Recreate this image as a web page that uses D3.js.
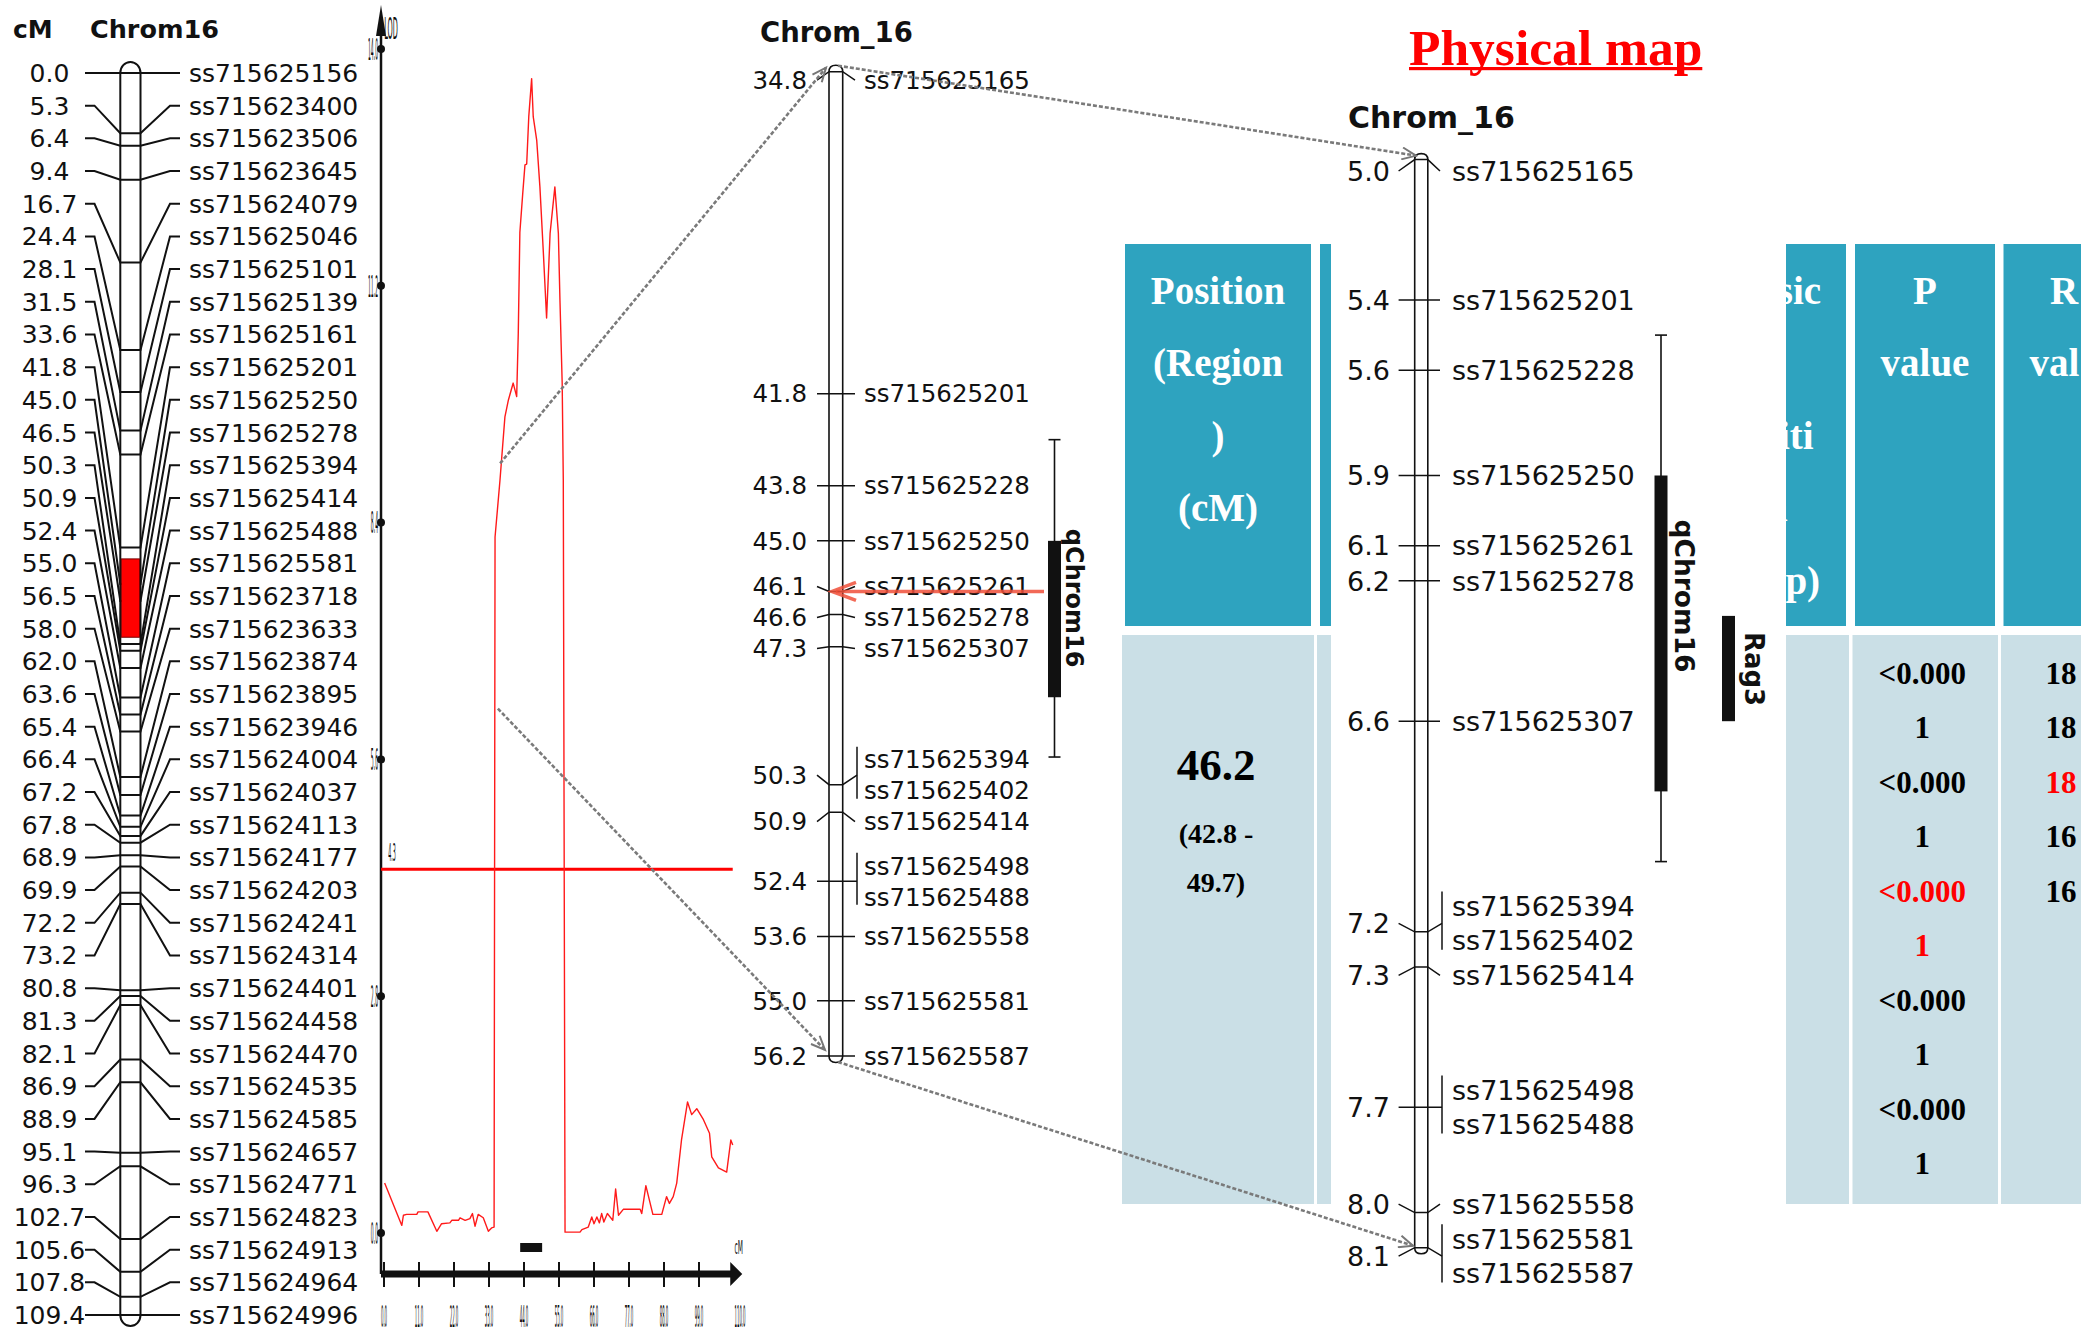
<!DOCTYPE html>
<html><head><meta charset="utf-8">
<script src="https://cdn.jsdelivr.net/npm/d3@7"></script>
<style>html,body{margin:0;padding:0;background:#fff}svg{display:block}</style>
</head><body>
<svg id="c" width="2081" height="1334"></svg>
<script>
// ================= DATA =================
// Genetic linkage map (left)
const leftCM = [0.0,5.3,6.4,9.4,16.7,24.4,28.1,31.5,33.6,41.8,45.0,46.5,50.3,50.9,52.4,55.0,56.5,58.0,62.0,63.6,65.4,66.4,67.2,67.8,68.9,69.9,72.2,73.2,80.8,81.3,82.1,86.9,88.9,95.1,96.3,102.7,105.6,107.8,109.4];
const leftMarkers = ["ss715625156","ss715623400","ss715623506","ss715623645","ss715624079","ss715625046","ss715625101","ss715625139","ss715625161","ss715625201","ss715625250","ss715625278","ss715625394","ss715625414","ss715625488","ss715625581","ss715623718","ss715623633","ss715623874","ss715623895","ss715623946","ss715624004","ss715624037","ss715624113","ss715624177","ss715624203","ss715624241","ss715624314","ss715624401","ss715624458","ss715624470","ss715624535","ss715624585","ss715624657","ss715624771","ss715624823","ss715624913","ss715624964","ss715624996"];
const qtlInterval = [42.8, 49.7];

// LOD profile
const lodCM  = [0.2,5.6,6.1,7.1,10.3,10.7,13.8,16.6,18.1,20.7,21.3,23.4,23.9,25.5,27.0,27.8,28.6,29.6,31.2,32.8,33.8,34.6,34.9,36.45,38.0,39.1,40.6,41.7,42.2,42.7,43.6,44.3,44.85,45.5,46.4,46.9,48.0,49.0,50.1,51.1,52.2,53.7,54.8,55.3,56.0,56.35,56.9,61.6,62.2,64.2,65.3,66.0,66.9,67.7,68.4,69.1,70.2,71.9,72.8,73.7,75.2,80.5,81.0,82.3,84.5,87.3,88.8,89.7,90.9,92.0,93.5,95.4,96.7,98.3,100.4,102.3,103.0,105.1,107.7,109.0,109.6];
const lodVal = [0.59,0.09,0.21,0.22,0.22,0.25,0.25,0.02,0.11,0.12,0.15,0.15,0.18,0.15,0.17,0.23,0.08,0.22,0.18,0.02,0.06,0.07,8.23,8.90,9.65,9.85,10.05,9.89,10.64,11.83,12.29,12.63,12.64,13.2,13.65,13.2,12.92,12.37,11.58,10.82,11.82,12.37,11.82,11.03,10.05,8.90,0.01,0.01,0.04,0.07,0.19,0.11,0.19,0.12,0.23,0.13,0.23,0.15,0.52,0.21,0.28,0.28,0.23,0.56,0.22,0.22,0.43,0.35,0.43,0.59,1.10,1.55,1.40,1.47,1.34,1.18,0.90,0.77,0.72,1.10,1.04];
const lodThreshold = 4.3;
const lodTicks = [0.0,2.8,5.6,8.4,11.2,14.0];
const cmTicks = [0,11,22,33,44,55,66,77,88,99,110];

// Zoomed genetic map (middle)
const midCM = [34.8,41.8,43.8,45.0,46.1,46.6,47.3,50.3,50.9,52.4,53.6,55.0,56.2];
const midNames = [["ss715625165"],["ss715625201"],["ss715625228"],["ss715625250"],["ss715625261"],["ss715625278"],["ss715625307"],["ss715625394","ss715625402"],["ss715625414"],["ss715625498","ss715625488"],["ss715625558"],["ss715625581"],["ss715625587"]];
const midQtlOuter = [42.8, 49.7];
const midQtlInner = [45.0, 48.4];
const peakMarkerCM = 46.1;

// Physical map (right)
const physMb = [5.0,5.4,5.6,5.9,6.1,6.2,6.6,7.2,7.3,7.7,8.0,8.1];
const physNames = [["ss715625165"],["ss715625201"],["ss715625228"],["ss715625250"],["ss715625261"],["ss715625278"],["ss715625307"],["ss715625394","ss715625402"],["ss715625414"],["ss715625498","ss715625488"],["ss715625558"],["ss715625581","ss715625587"]];
const physQtlOuter = [5.5, 7.0];
const physQtlInner = [5.9, 6.8];
const rag3Mb = [6.3, 6.6];

// Table (text as visible in the picture)
const headPosition = ["Position","(Region",")","(cM)"];
const headPhysical = ["Physic","al","Positi","on","(Mbp)"];
const headP = ["P","value"];
const headR = ["R","val"];
const peakPosition = "46.2";
const peakRange = ["(42.8 -","49.7)"];
const pValues = ["<0.0001","<0.0001","<0.0001","<0.0001","<0.0001"];
const rValues = ["18","18","18","16","16"];
const highlightRow = 2;

// ================= DRAW =================
const svg = d3.select('#c');
const SANS = '"DejaVu Sans", Verdana, sans-serif';
const SERIF = '"Liberation Serif","Times New Roman",serif';
const INK = '#111';
svg.append('rect').attr('width',2081).attr('height',1334).attr('fill','#fff');

const defs = svg.append('defs');
defs.append('marker').attr('id','garrow').attr('markerUnits','userSpaceOnUse')
  .attr('markerWidth',18).attr('markerHeight',14).attr('refX',15).attr('refY',7).attr('orient','auto')
  .append('path').attr('d','M1,1 L15,7 L1,13').attr('fill','none').attr('stroke','#777').attr('stroke-width',2);

function sq(g, x, y, txt, size, sx, anchor){
  g.append('text').attr('transform',`translate(${x},${y}) scale(${sx},1)`)
    .attr('font-family',SANS).attr('font-size',size).attr('text-anchor',anchor||'middle')
    .attr('dy','0.36em').attr('fill',INK).text(txt);
}

// ---------- Left genetic map ----------
(function(){
  const g = svg.append('g');
  const yL = d3.scaleLinear().domain([leftCM[0], leftCM[leftCM.length-1]]).range([73,1315]);
  const rowL = d3.scalePoint().domain(d3.range(leftCM.length)).range([73,1315]);
  const x0 = 120.3, x1 = 140.5;
  g.append('text').attr('x',13).attr('y',38).attr('font-family',SANS).attr('font-weight','bold').attr('font-size',25).attr('fill',INK).text('cM');
  g.append('text').attr('x',90).attr('y',38).attr('font-family',SANS).attr('font-weight','bold').attr('font-size',25.5).attr('fill',INK).text('Chrom16');
  const yt = yL(leftCM[0]), yb = yL(leftCM[leftCM.length-1]);
  g.append('path').attr('d',`M${x0},${yt} A10,11 0 0 1 ${x1},${yt} V${yb} A10,11 0 0 1 ${x0},${yb} Z`)
    .attr('fill','#fff').attr('stroke',INK).attr('stroke-width',2);
  leftCM.forEach((c,i)=>{
    const ly = rowL(i), py = yL(c);
    g.append('path').attr('d',`M85,${ly} H94.5 L${x0},${py} H${x1} L170,${ly} H180`)
      .attr('fill','none').attr('stroke',INK).attr('stroke-width',2);
    g.append('text').attr('x',49.5).attr('y',ly).attr('dy','0.36em').attr('text-anchor','middle')
      .attr('font-family',SANS).attr('font-size',25).attr('fill',INK).text(c.toFixed(1));
    g.append('text').attr('x',189).attr('y',ly).attr('dy','0.36em')
      .attr('font-family',SANS).attr('font-size',25).attr('fill',INK).text(leftMarkers[i]);
  });
  g.append('rect').attr('x',x0+1).attr('width',x1-x0-2).attr('y',yL(qtlInterval[0])).attr('height',yL(qtlInterval[1])-yL(qtlInterval[0]))
    .attr('fill','#f00').attr('stroke','#700').attr('stroke-width',1);
})();

// ---------- LOD plot ----------
const xLod = d3.scaleLinear().domain([0,110]).range([384,734]);
const yLod = d3.scaleLinear().domain([0,14]).range([1233,49]);
(function(){
  const g = svg.append('g');
  const ax = xLod(0)-3;
  const axY = 1274;
  g.append('line').attr('x1',ax).attr('x2',ax).attr('y1',axY).attr('y2',30).attr('stroke',INK).attr('stroke-width',2.5);
  g.append('path').attr('d',`M${ax-5},36 L${ax},5 L${ax+5},36 Z`).attr('fill',INK);
  lodTicks.forEach(t=>{
    g.append('circle').attr('cx',ax).attr('cy',yLod(t)).attr('r',4).attr('fill',INK);
    sq(g, ax-3, yLod(t), t.toFixed(1), 30, 0.15, 'end');
  });
  sq(g, ax+10, 28, 'LOD', 30, 0.22, 'middle');
  g.append('line').attr('x1',ax).attr('x2',xLod(109.6)).attr('y1',yLod(lodThreshold)).attr('y2',yLod(lodThreshold))
    .attr('stroke','#f00').attr('stroke-width',3);
  sq(g, ax+11, yLod(lodThreshold)-17, lodThreshold.toFixed(1), 24, 0.2, 'middle');
  const line = d3.line().x((d,i)=>xLod(lodCM[i])).y((d,i)=>yLod(lodVal[i]));
  g.append('path').attr('d',line(lodVal)).attr('fill','none').attr('stroke','#ff1a1a').attr('stroke-width',1.4).attr('stroke-linejoin','round');
  g.append('rect').attr('x',xLod(qtlInterval[0])).attr('width',xLod(qtlInterval[1])-xLod(qtlInterval[0]))
    .attr('y',1243).attr('height',9).attr('fill',INK);
  const tipX = xLod(112.6);
  g.append('line').attr('x1',ax).attr('x2',tipX-8).attr('y1',axY).attr('y2',axY).attr('stroke',INK).attr('stroke-width',7);
  g.append('path').attr('d',`M${tipX-12},${axY-12} L${tipX},${axY} L${tipX-12},${axY+12} Z`).attr('fill',INK);
  cmTicks.filter(t=>t<110).forEach(t=>{
    g.append('line').attr('x1',xLod(t)).attr('x2',xLod(t)).attr('y1',axY-12).attr('y2',axY+13).attr('stroke',INK).attr('stroke-width',2);
  });
  cmTicks.forEach(t=>{
    sq(g, t===110 ? xLod(t)+6 : xLod(t), 1316, t.toFixed(1), 30, 0.13, 'middle');
  });
  sq(g, xLod(111.5), 1247, 'cM', 20, 0.3, 'middle');
})();

// label layout: cluster-based relaxation
function layoutLabels(centers, counts, lineH, minCenter){
  const blocks = centers.map((c,i)=>({i, desired:c, h:counts[i]*lineH}));
  let clusters = blocks.map(b=>({blocks:[b]}));
  function solve(cl){ let off=0, s=0; cl.blocks.forEach(b=>{ b.off=off; s += b.desired - b.h/2 - off; off += b.h; }); cl.top = s/cl.blocks.length; cl.h = off; }
  clusters.forEach(solve);
  let changed = true;
  while(changed){
    changed = false;
    for(let k=0;k<clusters.length-1;k++){
      const a=clusters[k], b=clusters[k+1];
      if(a.top + a.h > b.top + 0.01){ a.blocks = a.blocks.concat(b.blocks); solve(a); clusters.splice(k+1,1); changed=true; break; }
    }
  }
  const first = clusters[0];
  const firstCenter = first.top + first.blocks[0].h/2;
  if(firstCenter < minCenter) first.top += (minCenter - firstCenter);
  const out = [];
  clusters.forEach(cl=>cl.blocks.forEach(b=>{
    const items = d3.range(counts[b.i]).map(j=>cl.top + b.off + (j+0.5)*lineH);
    out[b.i] = {center: cl.top + b.off + b.h/2, items};
  }));
  return out;
}

function drawMap(g, opt){
  const {pos, names, y, barX0, barX1, tickX0, tickX1, numX, nameX, fs, lineH, capH, minOffset} = opt;
  const yTop = y(pos[0]), yBot = y(pos[pos.length-1]);
  const mx = (barX0+barX1)/2;
  g.append('path').attr('d',`M${barX0},${yTop} Q${barX0},${yTop-capH} ${mx},${yTop-capH} Q${barX1},${yTop-capH} ${barX1},${yTop} V${yBot} Q${barX1},${yBot+capH} ${mx},${yBot+capH} Q${barX0},${yBot+capH} ${barX0},${yBot} Z`)
    .attr('fill','#fff').attr('stroke',INK).attr('stroke-width',1.6);
  const lay = layoutLabels(pos.map(p=>y(p)), names.map(n=>n.length), lineH, yTop+minOffset);
  pos.forEach((p,i)=>{
    const py = y(p), L = lay[i];
    const multi = names[i].length > 1;
    const rx = multi ? tickX1+2 : tickX1;
    g.append('path').attr('d',`M${tickX0},${L.center} L${barX0},${py} H${barX1} L${rx},${L.center}`)
      .attr('fill','none').attr('stroke',INK).attr('stroke-width',1.5);
    g.append('text').attr('x',numX).attr('y',L.center).attr('dy','0.36em').attr('text-anchor','end')
      .attr('font-family',SANS).attr('font-size',fs).attr('fill',INK).text(p.toFixed(1));
    if(multi){
      g.append('line').attr('x1',rx).attr('x2',rx).attr('y1',L.items[0]-lineH*0.42).attr('y2',L.items[L.items.length-1]+lineH*0.26)
        .attr('stroke',INK).attr('stroke-width',1.5);
    }
    names[i].forEach((n,j)=>{
      g.append('text').attr('x',nameX).attr('y',L.items[j]).attr('dy','0.36em')
        .attr('font-family',SANS).attr('font-size',fs).attr('fill',INK).text(n);
    });
  });
}

function drawQtl(g, y, xc, outer, inner, label, fs, tx, ty){
  g.append('line').attr('x1',xc).attr('x2',xc).attr('y1',y(outer[0])).attr('y2',y(outer[1])).attr('stroke',INK).attr('stroke-width',1.6);
  [outer[0],outer[1]].forEach(v=>g.append('line').attr('x1',xc-6).attr('x2',xc+6).attr('y1',y(v)).attr('y2',y(v)).attr('stroke',INK).attr('stroke-width',1.6));
  g.append('rect').attr('x',xc-6.5).attr('width',13).attr('y',y(inner[0])).attr('height',y(inner[1])-y(inner[0])).attr('fill',INK);
  g.append('text').attr('transform',`translate(${tx},${ty}) rotate(90)`)
    .attr('font-family',SANS).attr('font-weight','bold').attr('font-size',fs).attr('fill',INK).text(label);
}

// ---------- Table (drawn before the physical-map panel covers part of it) ----------
(function(){
  const g = svg.append('g');
  const HEAD = '#2ea3bf', BODY = '#cadfe6';
  const hy0 = 244, hy1 = 626, by0 = 635, by1 = 1204;
  const cols = [
    {hx:1125, hw:186, bx:1122, bw:192, head:headPosition},
    {hx:1320, hw:160, bx:1317, bw:166, head:[]},
    {hx:1489, hw:190, bx:1486, bw:196, head:[]},
    {hx:1688, hw:158, bx:1685, bw:164, head:headPhysical},
    {hx:1855, hw:140, bx:1852.5, bw:145.5, head:headP},
    {hx:2003.5, hw:141, bx:2001, bw:146, head:headR}
  ];
  cols.forEach((c,ci)=>{
    g.append('rect').attr('x',c.hx).attr('y',hy0).attr('width',c.hw).attr('height',hy1-hy0).attr('fill',HEAD);
    g.append('rect').attr('x',c.bx).attr('y',by0).attr('width',c.bw).attr('height',by1-by0).attr('fill',BODY);
    const last = ci === cols.length-1;
    c.head.forEach((t,i)=>{
      const tx = last ? (i===0 ? 2050 : 2029.5) : c.hx+c.hw/2;
      g.append('text').attr('x',tx).attr('y',303.5+i*72.5).attr('text-anchor', last ? 'start' : 'middle')
        .attr('font-family',SERIF).attr('font-weight','bold').attr('font-size',39).attr('fill','#fff').text(t);
    });
  });
  const cx0 = cols[0].bx + cols[0].bw/2 - 2;
  g.append('text').attr('x',cx0).attr('y',780).attr('text-anchor','middle').attr('font-family',SERIF).attr('font-weight','bold').attr('font-size',45).attr('fill','#000').text(peakPosition);
  peakRange.forEach((t,i)=>g.append('text').attr('x',cx0).attr('y',843+i*49).attr('text-anchor','middle')
    .attr('font-family',SERIF).attr('font-weight','bold').attr('font-size',28).attr('fill','#000').text(t));
  const pc = cols[4].bx + cols[4].bw/2 - 3;
  let li = 0;
  pValues.forEach((v,r)=>{
    [v.slice(0,6), v.slice(6)].forEach(part=>{
      g.append('text').attr('x',pc).attr('y',683.5+li*54.5).attr('text-anchor','middle')
        .attr('font-family',SERIF).attr('font-weight','bold').attr('font-size',31)
        .attr('fill', r===highlightRow ? '#f00' : '#000').text(part);
      li++;
    });
  });
  rValues.forEach((v,r)=>{
    g.append('text').attr('x',2045.5).attr('y',683.5+r*54.5)
      .attr('font-family',SERIF).attr('font-weight','bold').attr('font-size',31)
      .attr('fill', r===highlightRow ? '#f00' : '#000').text(v);
  });
  g.append('rect').attr('x',1331).attr('y',236).attr('width',1786-1331).attr('height',980).attr('fill','#fff');
})();

// ---------- Middle map ----------
const yM = d3.scaleLinear().domain([midCM[0], midCM[midCM.length-1]]).range([71.7,1056]);
(function(){
  const g = svg.append('g');
  g.append('text').attr('x',760).attr('y',42).attr('font-family',SANS).attr('font-weight','bold').attr('font-size',27.5).attr('fill',INK).text('Chrom_16');
  drawMap(g, {pos:midCM, names:midNames, y:yM, barX0:829, barX1:842.7, tickX0:817, tickX1:855, numX:807, nameX:864, fs:24.5, lineH:31, capH:6.5, minOffset:8.5});
  drawQtl(g, yM, 1054.5, midQtlOuter, midQtlInner, 'qChrom16', 24, 1066, yM(midQtlInner[0])-12);
  const ay = yM(peakMarkerCM), tip = 832;
  g.append('line').attr('x1',1044).attr('x2',tip+4).attr('y1',ay).attr('y2',ay).attr('stroke','#f0503a').attr('stroke-width',3.5).attr('opacity',0.85);
  g.append('path').attr('d',`M${tip+24},${ay-9} L${tip},${ay} L${tip+24},${ay+9}`).attr('fill','none').attr('stroke','#f0503a').attr('stroke-width',3.5).attr('opacity',0.85);
})();

// ---------- Physical map ----------
const yP = d3.scaleLinear().domain([physMb[0], physMb[physMb.length-1]]).range([159.6,1247.7]);
(function(){
  const g = svg.append('g');
  const title = g.append('text').attr('x',1409).attr('y',65).attr('font-family',SERIF).attr('font-weight','bold').attr('font-size',51.5).attr('fill','#f00').text('Physical map');
  const tw = title.node().getComputedTextLength();
  g.append('rect').attr('x',1409).attr('y',67).attr('width',tw).attr('height',3.2).attr('fill','#f00');
  g.append('text').attr('x',1348).attr('y',128).attr('font-family',SANS).attr('font-weight','bold').attr('font-size',30).attr('fill',INK).text('Chrom_16');
  drawMap(g, {pos:physMb, names:physNames, y:yP, barX0:1414.7, barX1:1427.8, tickX0:1398.6, tickX1:1440, numX:1390, nameX:1452, fs:27, lineH:34.6, capH:6, minOffset:11.4});
  drawQtl(g, yP, 1661, physQtlOuter, physQtlInner, 'qChrom16', 26.5, 1675, yP(physQtlInner[0])+44);
  g.append('rect').attr('x',1722).attr('width',13).attr('y',yP(rag3Mb[0])).attr('height',yP(rag3Mb[1])-yP(rag3Mb[0])).attr('fill',INK);
  g.append('text').attr('transform',`translate(1745,${yP(rag3Mb[0])+16}) rotate(90)`)
    .attr('font-family',SANS).attr('font-weight','bold').attr('font-size',26).attr('fill',INK).text('Rag3');
})();

// ---------- zoom connector arrows ----------
(function(){
  const g = svg.append('g').attr('fill','none').attr('stroke','#7a7a7a').attr('stroke-width',2.6).attr('stroke-dasharray','4,2');
  const links = [
    [[xLod(36.5), yLod(9.1)], [826, yM(midCM[0])-4]],
    [[838, yM(midCM[0])-6], [1416, yP(physMb[0])-4]],
    [[xLod(35.8), yLod(6.2)], [825, yM(midCM[midCM.length-1])-6]],
    [[838, yM(midCM[midCM.length-1])+6], [1413, yP(physMb[physMb.length-1])-2]]
  ];
  links.forEach(l=>g.append('line').attr('x1',l[0][0]).attr('y1',l[0][1]).attr('x2',l[1][0]).attr('y2',l[1][1]).attr('marker-end','url(#garrow)'));
})();
</script>
</body></html>
